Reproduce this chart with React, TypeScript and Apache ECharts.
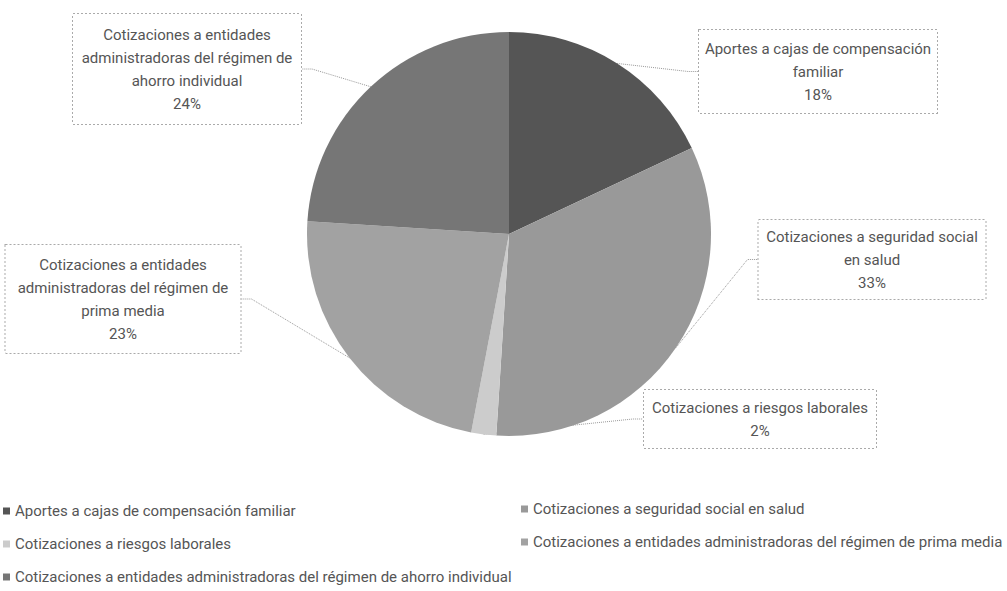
import React, { useEffect, useRef } from "react";
import * as echarts from "echarts";

const categories = [
  "Aportes a cajas de compensación familiar",
  "Cotizaciones a seguridad social en salud",
  "Cotizaciones a riesgos laborales",
  "Cotizaciones a entidades administradoras del régimen de prima media",
  "Cotizaciones a entidades administradoras del régimen de ahorro individual",
];
const values = [18, 33, 2, 23, 24];
const labelTexts = [
  ["Aportes a cajas de compensación", "familiar"],
  ["Cotizaciones a seguridad social", "en salud"],
  ["Cotizaciones a riesgos laborales"],
  ["Cotizaciones a entidades", "administradoras del régimen de", "prima media"],
  ["Cotizaciones a entidades", "administradoras del régimen de", "ahorro individual"],
];
const colors = ["#555555", "#999999", "#cccccc", "#a2a2a2", "#767676"];

// label box layout: center x, top y, width, height
const labelBoxes = [
  { cx: 818, top: 30, w: 240, h: 83 },
  { cx: 872, top: 220, w: 229, h: 79 },
  { cx: 760, top: 390, w: 234, h: 58 },
  { cx: 123, top: 245, w: 237, h: 108 },
  { cx: 187, top: 14, w: 230, h: 110 },
];

const FONT = 'Roboto, "Noto Sans", sans-serif';
const FS = 15;
const LH = 23;

export default function App() {
  const ref = useRef<HTMLDivElement>(null);
  useEffect(() => {
    if (!ref.current) return;
    const chart = echarts.init(ref.current, null, { renderer: "svg" });
    const data = categories.map((name, i) => {
      const box = labelBoxes[i];
      const n = labelTexts[i].length + 1;
      const padV = Math.max(0, (box.h - n * LH) / 2);
      return {
        name,
        value: values[i],
        itemStyle: { color: colors[i] },
        label: {
          formatter: () => labelTexts[i].join("\n") + "\n" + values[i] + "%",
          width: box.w - 2,
          overflow: "none",
          padding: [padV, 0, padV, 0],
        },
      };
    });
    const legendCommon = {
      orient: "vertical",
      padding: 0,
      itemWidth: 7,
      itemHeight: 7,
      itemGap: 15,
      icon: "rect",
      textStyle: { fontFamily: FONT, fontSize: FS, color: "#555", lineHeight: 18 },
    };
    chart.setOption({
      animation: false,
      backgroundColor: "#ffffff",
      legend: [
        {
          ...legendCommon,
          data: [categories[0], categories[2], categories[4]],
          left: 3,
          top: 502,
        },
        {
          ...legendCommon,
          data: [categories[1], categories[3]],
          left: 521,
          top: 500,
        },
      ],
      series: [
        {
          type: "pie",
          center: [509, 234],
          radius: 202,
          startAngle: 90,
          clockwise: true,
          data,
          itemStyle: { borderWidth: 0 },
          label: {
            show: true,
            position: "outside",
            fontFamily: FONT,
            fontSize: FS,
            lineHeight: LH,
            color: "#555",
            align: "center",
            backgroundColor: "#ffffff",
            borderColor: "#aaaaaa",
            borderWidth: 1,
            borderType: "dotted",
          },
          labelLine: {
            show: true,
            length: 10,
            length2: 10,
            lineStyle: { color: "#999999", type: "dotted", width: 1 },
          },
          labelLayout: (params: any) => {
            const box = labelBoxes[params.dataIndex];
            return {
              x: box.cx,
              y: box.top,
              align: "center",
              verticalAlign: "top",
            };
          },
          emphasis: { disabled: true },
        },
      ],
    });
    return () => chart.dispose();
  }, []);
  return (
    <div
      ref={ref}
      style={{ position: "fixed", left: 0, top: 0, width: 1007, height: 591 }}
    />
  );
}
